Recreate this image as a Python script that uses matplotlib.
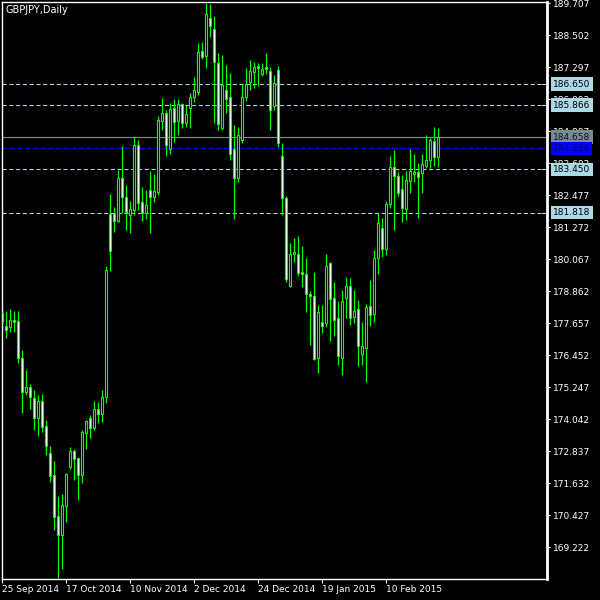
import numpy as np
import matplotlib
matplotlib.use("Agg")
import matplotlib.pyplot as plt
import matplotlib.transforms as mtransforms

title = "GBPJPY,Daily"
date_labels = ["25 Sep 2014", "17 Oct 2014", "10 Nov 2014", "2 Dec 2014",
               "24 Dec 2014", "19 Jan 2015", "10 Feb 2015"]
bars_per_label = 16

opens = [178.04, 177.55, 177.52, 177.78, 177.74, 176.34, 175.06, 175.24, 174.83, 174.08,
         174.73, 173.79, 172.76, 171.93, 170.39, 169.69, 170.79, 172.26, 172.85, 172.57,
         171.94, 173.54, 174.09, 173.72, 174.43, 174.23, 174.87, 181.76, 181.79, 181.51,
         183.11, 182.42, 181.73, 181.92, 184.36, 182.21, 181.79, 182.67, 182.39, 182.61,
         185.28, 185.56, 184.20, 185.74, 185.28, 185.91, 185.18, 185.74, 186.18, 186.37,
         187.90, 187.72, 189.15, 188.72, 187.44, 185.01, 186.43, 186.18, 184.20, 183.13,
         184.55, 186.16, 186.75, 187.12, 187.35, 187.04, 187.30, 187.15, 185.83, 187.19,
         183.95, 182.36, 179.07, 180.26, 180.26, 179.57, 179.50, 178.76, 178.69, 176.34,
         177.71, 177.65, 179.91, 178.59, 177.84, 176.34, 178.59, 179.07, 177.88, 178.18,
         176.49, 176.73, 178.30, 177.99, 180.10, 181.23, 180.45, 182.13, 183.52, 183.20,
         182.70, 181.95, 183.02, 183.27, 183.34, 183.32, 183.58, 183.80, 184.51, 183.92]
highs = [178.19, 178.12, 178.19, 178.12, 178.12, 176.65, 175.90, 175.37, 175.14, 174.96,
         174.99, 174.01, 173.04, 172.47, 171.15, 171.23, 172.03, 173.01, 172.92, 172.59,
         173.64, 174.01, 174.20, 174.73, 174.70, 175.14, 179.81, 182.52, 182.03, 183.42,
         184.33, 182.86, 182.26, 184.65, 184.55, 182.77, 182.67, 183.38, 183.27, 185.45,
         186.14, 185.68, 185.93, 186.09, 186.09, 185.96, 185.87, 186.31, 186.91, 188.19,
         188.25, 189.707, 189.68, 189.22, 187.81, 187.75, 187.37, 187.06, 185.12, 185.03,
         186.71, 187.25, 187.56, 187.48, 187.44, 187.44, 187.84, 187.31, 187.00, 187.34,
         184.43, 182.44, 180.66, 180.87, 180.94, 180.56, 180.10, 178.87, 179.57, 178.34,
         178.34, 180.26, 179.95, 179.20, 178.50, 178.91, 179.38, 179.35, 178.91, 178.53,
         177.69, 178.38, 179.28, 180.41, 181.79, 181.63, 182.27, 183.95, 184.18, 183.36,
         183.23, 183.40, 184.21, 184.02, 183.67, 184.01, 184.74, 184.64, 185.03, 184.99]
lows = [177.40, 177.11, 177.34, 177.34, 176.17, 174.29, 174.96, 174.43, 173.64, 173.42,
        173.57, 172.70, 171.69, 169.87, 168.07, 168.41, 170.19, 172.17, 171.76, 171.00,
        171.65, 172.92, 173.35, 173.64, 173.90, 173.95, 174.64, 179.63, 181.10, 181.46,
        181.79, 181.16, 181.06, 181.73, 181.92, 181.51, 181.58, 181.06, 182.23, 182.48,
        184.93, 183.95, 184.02, 184.49, 184.74, 184.99, 185.03, 185.01, 185.99, 186.25,
        187.59, 187.27, 188.42, 185.18, 184.93, 184.93, 185.58, 183.80, 181.57, 182.98,
        184.43, 186.02, 186.43, 186.50, 186.58, 186.96, 187.04, 184.93, 185.68, 184.30,
        181.73, 179.22, 179.03, 179.97, 179.43, 179.01, 178.09, 176.84, 176.27, 175.79,
        177.30, 177.50, 177.00, 177.19, 176.08, 175.71, 177.84, 177.59, 177.65, 176.05,
        176.08, 175.46, 177.55, 177.71, 179.51, 180.14, 180.22, 181.98, 181.16, 182.46,
        181.48, 181.54, 182.55, 182.98, 181.63, 182.57, 183.49, 183.49, 183.58, 183.52]
closes = [177.70, 177.40, 177.78, 177.71, 176.36, 175.06, 175.27, 174.87, 174.08, 174.73,
          173.76, 173.05, 171.92, 170.37, 169.69, 170.80, 171.98, 172.85, 172.55, 171.94,
          173.56, 173.98, 173.72, 174.43, 174.23, 174.88, 179.66, 180.39, 181.51, 183.11,
          182.42, 181.83, 181.94, 184.36, 182.19, 181.79, 182.11, 182.39, 182.64, 185.30,
          185.56, 184.36, 185.72, 185.24, 185.91, 185.18, 185.52, 186.18, 186.43, 187.85,
          187.69, 189.28, 188.85, 187.50, 185.14, 186.62, 186.08, 184.01, 183.13, 184.74,
          186.16, 186.65, 187.15, 187.29, 187.26, 187.22, 187.21, 185.68, 186.71, 184.45,
          182.36, 179.31, 180.26, 180.34, 179.56, 179.50, 178.74, 178.68, 176.30, 178.07,
          177.56, 179.82, 178.56, 177.78, 176.43, 178.50, 179.07, 177.86, 178.13, 176.81,
          176.80, 178.25, 177.97, 180.10, 181.42, 180.44, 182.13, 183.52, 183.21, 182.57,
          181.98, 183.05, 183.38, 183.36, 183.17, 183.64, 183.80, 184.55, 183.92, 184.658]

y_ticks = [189.707, 188.502, 187.297, 186.092, 184.887, 183.682, 182.477, 181.272,
           180.067, 178.862, 177.657, 176.452, 175.247, 174.042, 172.837, 171.632,
           170.427, 169.222]

level_lines = [186.650, 185.866, 183.450, 181.818]
bid_price = 184.658
blue_price = 184.234

LIME = "#00ff00"
LBLUE = "#add8e6"
FS = 6.5

plt.rcParams['font.family'] = ['DejaVu Sans']
fig = plt.figure(figsize=(6, 6), dpi=100, facecolor="black")
ax = fig.add_axes([2/600, 21/600, 545/600, 577/600])
ax.set_facecolor("black")

o = np.array(opens); h = np.array(highs); l = np.array(lows); c = np.array(closes)
x = np.arange(len(o))

# level lines
for p in level_lines:
    ax.axhline(p, color=LBLUE, lw=0.75, ls=(0, (4, 2.5)), zorder=1)
ax.axhline(bid_price, color="#8c8c8c", lw=0.8, zorder=1)
ax.axhline(blue_price, color="#0000ff", lw=1.0, ls=(0, (3.5, 2)), zorder=1)

# candles
ax.vlines(x, l, h, color=LIME, lw=0.9, zorder=2)
bull = c >= o
fills = np.where(bull, "black", "white")
heights = np.abs(c - o)
heights = np.where(heights < 0.01, 0.01, heights)
ax.bar(x, heights, bottom=np.minimum(o, c), width=0.5, color=fills,
       edgecolor=LIME, linewidth=0.8, zorder=3)

ax.set_xlim(-0.1, 136.15)
ax.set_ylim(168.03, 189.745)

for s in ax.spines.values():
    s.set_color("white")
    s.set_linewidth(1.0)
ax.spines["right"].set_linewidth(2.0)

ax.yaxis.tick_right()
ax.set_yticks(y_ticks)
ax.set_yticklabels([f"{v:.3f}" for v in y_ticks])
ax.tick_params(axis="y", colors="white", labelcolor="white", labelsize=FS,
               direction="out", length=2.2, width=0.8, pad=1.8)

xt = np.arange(len(date_labels)) * bars_per_label
ax.set_xticks(xt)
ax.set_xticklabels(date_labels, ha="left")
ax.tick_params(axis="x", colors="white", labelcolor="white", labelsize=FS,
               direction="out", length=3.0, width=0.8, pad=1.5)

# price labels on right axis
trans = mtransforms.blended_transform_factory(ax.transAxes, ax.transData)
labels = [(p, LBLUE, "black") for p in level_lines] + \
         [(bid_price, "#7a8a92", "#111111"), (blue_price, "#0000ff", "#000066")]
for p, fc, tc in labels:
    ax.text(1.0112, p, f"{p:.3f}", transform=trans, fontsize=FS, color=tc,
            ha="left", va="center", clip_on=False, zorder=10,
            bbox=dict(boxstyle="square,pad=0.25", fc=fc, ec="none"))
    ax.plot([0.9905, 0.9963], [p, p], transform=trans, color=fc if fc != "#7a8a92" else "#8c8c8c",
            lw=0.8, clip_on=False, zorder=4)

fig.text(6/600, 1 - 10/600, title, color="white", fontsize=7, ha="left", va="center")

fig.savefig("out.png", dpi=100, facecolor="black")
